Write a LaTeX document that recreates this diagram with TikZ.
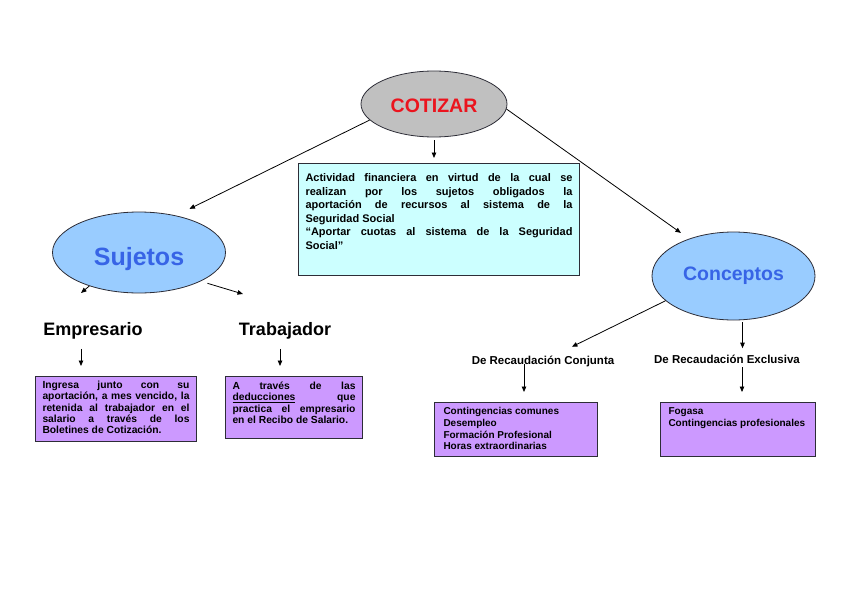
\documentclass[tikz,border=0pt]{standalone}
\usepackage{fontspec}
\setmainfont{Liberation Sans}
\usetikzlibrary{arrows.meta,positioning,shapes.geometric}
\definecolor{cotgris}{RGB}{192,192,192}
\definecolor{cotrojo}{RGB}{235,20,30}
\definecolor{cotazul}{RGB}{55,100,230}
\definecolor{cotcielo}{RGB}{153,204,255}
\definecolor{cotcian}{RGB}{204,255,255}
\definecolor{cotlila}{RGB}{204,153,255}
\definecolor{cotborde}{RGB}{45,45,55}

\begin{document}
\begin{tikzpicture}[x=1pt, y=-1pt, >={Triangle[length=5.5pt,width=4.5pt]},
  every node/.style={font=\bfseries},
  elipse/.style={ellipse, draw=cotborde, line width=0.8pt, inner sep=0pt},
  caja/.style={draw=cotborde, line width=1pt, fill=cotlila, anchor=north west, inner xsep=7pt, inner ysep=5pt, font=\bfseries\fontsize{10}{11.7}\selectfont},
  rotulo/.style={font=\bfseries\fontsize{18}{20}\selectfont},
  recaudo/.style={font=\bfseries\fontsize{11.5}{13}\selectfont},
  flecha/.style={->, line width=0.8pt}]
  \fill[white] (0,0) rectangle (848,599);
  \useasboundingbox (0,0) rectangle (848,599);
  % centro
  \node[elipse, fill=cotgris, minimum width=146pt, minimum height=66pt, text=cotrojo, text height=18pt, text depth=0pt, font=\bfseries\fontsize{19.5}{22}\selectfont] (cotizar) at (434,104) {COTIZAR};
  \node[draw=cotborde, line width=1pt, fill=cotcian, anchor=north west, inner xsep=7pt, inner ysep=10pt, font=\bfseries\fontsize{11}{13.6}\selectfont] (definicion) at (298,163)
    {\parbox[t][92pt][t]{267pt}{Actividad financiera en virtud de la cual se\linebreak
     realizan por los sujetos obligados la\linebreak
     aportación de recursos al sistema de la\linebreak
     Seguridad Social\par
     “Aportar cuotas al sistema de la Seguridad\linebreak
     Social"}};
  % sujetos
  \node[elipse, fill=cotcielo, minimum width=173pt, minimum height=81pt, text=cotazul, text height=31pt, text depth=5pt, font=\bfseries\fontsize{25}{28}\selectfont] (sujetos) at (139,252.5) {Sujetos};
  \node[rotulo] (empresario) at (93,331) {Empresario};
  \node[rotulo] (trabajador) at (285,331) {Trabajador};
  \node[caja, font=\bfseries\fontsize{10.3}{11.3}\selectfont, inner ysep=4.5pt] (cajaemp) at (35,376)
    {\parbox[t][56pt][t]{147pt}{Ingresa junto con su\linebreak
     aportación, a mes vencido, la\linebreak
     retenida al trabajador en el\linebreak
     salario a través de los\linebreak
     Boletines de Cotización.}};
  \node[caja, font=\bfseries\fontsize{10.3}{11.3}\selectfont, inner ysep=5.5pt] (cajatrab) at (225,376)
    {\parbox[t][51pt][t]{123pt}{A través de las\linebreak
     \underline{deducciones} que\linebreak
     practica el empresario\linebreak
     en el Recibo de Salario.}};
  % conceptos
  \node[elipse, fill=cotcielo, minimum width=163pt, minimum height=88pt, text=cotazul, text height=12pt, text depth=4pt, font=\bfseries\fontsize{19.5}{22}\selectfont] (conceptos) at (733.5,276) {Conceptos};
  \node[recaudo] (conjunta) at (543,361) {De Recaudación Conjunta};
  \node[recaudo] (exclusiva) at (727,359) {De Recaudación Exclusiva};
  \node[caja, inner xsep=9pt] (cajaconj) at (434,402)
    {\parbox[t][44pt][t]{145pt}{\raggedright Contingencias comunes\\
     Desempleo\\
     Formación Profesional\\
     Horas extraordinarias}};
  \node[caja, inner xsep=8pt] (cajaexc) at (660,402)
    {\parbox[t][44pt][t]{139pt}{\raggedright Fogasa\\
     Contingencias profesionales}};
  \coordinate (puntaemp) at (81,293);
  \coordinate (puntatrab) at (243,294);
  % flechas
  \draw[flecha, shorten <=3pt, shorten >=5pt] (cotizar.south) -- (cotizar.south |- definicion.north);
  \draw[flecha, shorten >=15pt] (cotizar.194) -- (sujetos.45);
  \draw[flecha, shorten >=10pt] (cotizar.356) -- (conceptos.140);
  \draw[flecha] (sujetos.214) -- (puntaemp);
  \draw[flecha, shorten <=7pt] (sujetos.335) -- (puntatrab);
  \draw[flecha, shorten <=6pt, shorten >=10pt] ([xshift=-12pt]empresario.south) -- ([xshift=-12pt]empresario.south |- cajaemp.north);
  \draw[flecha, shorten <=6pt, shorten >=10pt] ([xshift=-5pt]trabajador.south) -- ([xshift=-5pt]trabajador.south |- cajatrab.north);
  \draw[flecha, shorten >=12pt] (conceptos.200) -- (conjunta);
  \draw[flecha, shorten <=2pt, shorten >=3pt] ([xshift=9pt]conceptos.south) -- ([xshift=9pt]conceptos.south |- exclusiva.north);
  \draw[flecha, shorten <=3pt, shorten >=10pt] ([xshift=-19pt]conjunta.center) -- ([xshift=-19pt]conjunta.center |- cajaconj.north);
  \draw[flecha, shorten <=8pt, shorten >=10pt] ([xshift=15pt]exclusiva.center) -- ([xshift=15pt]exclusiva.center |- cajaexc.north);
\end{tikzpicture}
\end{document}
